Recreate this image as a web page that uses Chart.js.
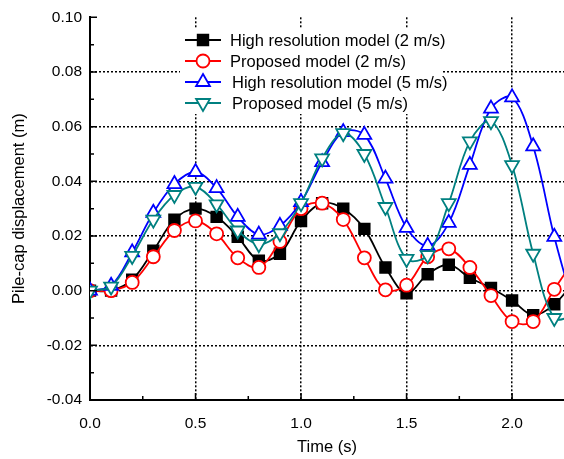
<!DOCTYPE html>
<html>
<head>
<meta charset="utf-8">
<script src="https://cdn.jsdelivr.net/npm/chart.js@4.4.1/dist/chart.umd.min.js"></script>
<style>
    html, body { margin: 0; padding: 0; background: #fff; }
</style>
</head>
<body>
<canvas id="dispChart" width="564" height="459"></canvas>
<script>
// time (s) of each sample
var timeSteps = [0.0, 0.1, 0.2, 0.3, 0.4, 0.5, 0.6, 0.7, 0.8, 0.9, 1.0, 1.1,
                 1.2, 1.3, 1.4, 1.5, 1.6, 1.7, 1.8, 1.9, 2.0, 2.1, 2.2, 2.3];

// pile-cap displacement (m)
var hiRes2 = [0, 0, 0.004, 0.0146, 0.026, 0.030, 0.027, 0.0197, 0.011, 0.0135, 0.0255, 0.032,
              0.030, 0.0226, 0.0085, -0.001, 0.006, 0.0095, 0.0047, 0.001, -0.0036, -0.009, -0.005, 0.004];
var proposed2 = [0, 0, 0.003, 0.0124, 0.022, 0.0255, 0.0208, 0.012, 0.0085, 0.018, 0.030, 0.032,
                 0.026, 0.012, 0.0003, 0.002, 0.0124, 0.0153, 0.0085, -0.0018, -0.0113, -0.0113, 0.0005, 0.012];
var hiRes5 = [0, 0.0018, 0.014, 0.0285, 0.039, 0.0434, 0.0375, 0.027, 0.0205, 0.0237, 0.0324, 0.047,
              0.058, 0.057, 0.041, 0.023, 0.0164, 0.0248, 0.046, 0.0666, 0.0707, 0.0528, 0.0197, -0.008];
var proposed5 = [0, 0.0015, 0.0127, 0.026, 0.035, 0.038, 0.0316, 0.022, 0.017, 0.021, 0.032, 0.0484,
                 0.0576, 0.050, 0.0306, 0.0116, 0.013, 0.032, 0.0546, 0.062, 0.0459, 0.0135, -0.010, -0.009];

var seriesNames = ['High resolution model (2 m/s)', 'Proposed model (2 m/s)',
                   'High resolution model (5 m/s)', 'Proposed model (5 m/s)'];

var xTicks = [0.0, 0.5, 1.0, 1.5, 2.0];
var yTicks = [-0.04, -0.02, 0.00, 0.02, 0.04, 0.06, 0.08, 0.10];

var FONT = "Arial, 'Liberation Sans', sans-serif";

function toPoints(values) {
    return values.map(function (v, i) { return { x: timeSteps[i], y: v }; });
}

function makeSeries(i, values, color, style, opts) {
    return Object.assign({
        label: seriesNames[i],
        data: toPoints(values),
        borderColor: color,
        backgroundColor: '#fff',
        pointBorderColor: color,
        pointBackgroundColor: '#fff',
        pointStyle: style,
        pointRadius: 6.5,
        pointBorderWidth: 1.8,
        borderWidth: 1.8,
        tension: 0.35,
        order: 3 - i
    }, opts || {});
}

// inward tick marks on the left and bottom axes
var axisTicks = {
    id: 'axisTicks',
    afterDatasetsDraw: function (chart) {
        var ctx = chart.ctx, x = chart.scales.x, y = chart.scales.y, a = chart.chartArea;
        ctx.save();
        ctx.strokeStyle = '#000';
        ctx.lineWidth = 1.5;
        ctx.beginPath();
        for (var k = 1; k * 0.25 <= 2.25; k++) {
            var px = x.getPixelForValue(k * 0.25);
            var len = (k % 2 === 0) ? 7 : 4;
            ctx.moveTo(px, a.bottom);
            ctx.lineTo(px, a.bottom - len);
        }
        for (var j = 1; j <= 14; j++) {
            var py = y.getPixelForValue(-0.04 + j * 0.01);
            var l2 = (j % 2 === 0) ? 7 : 4;
            ctx.moveTo(a.left, py);
            ctx.lineTo(a.left + l2, py);
        }
        ctx.stroke();
        ctx.restore();
    }
};

// legend box drawn inside the plot
var innerLegend = {
    id: 'innerLegend',
    afterDraw: function (chart) {
        var ctx = chart.ctx;
        ctx.save();
        ctx.fillStyle = '#fff';
        ctx.fillRect(180, 28, 262, 86);
        ctx.font = '16.5px ' + FONT;
        ctx.textBaseline = 'middle';
        chart.data.datasets.forEach(function (ds, i) {
            var rowY = 40 + i * 21;
            ctx.strokeStyle = ds.borderColor;
            ctx.lineWidth = 1.8;
            ctx.beginPath();
            ctx.moveTo(185, rowY);
            ctx.lineTo(221, rowY);
            ctx.stroke();
            ctx.fillStyle = ds.pointBackgroundColor;
            Chart.helpers.drawPoint(ctx, {
                pointStyle: ds.pointStyle,
                radius: ds.pointRadius,
                rotation: ds.pointRotation || 0,
                borderWidth: ds.pointBorderWidth
            }, 203, rowY);
            ctx.fillStyle = '#000';
            ctx.fillText(ds.label, i >= 2 ? 232 : 230, rowY + 1);
        });
        ctx.restore();
    }
};

var ctx = document.getElementById('dispChart').getContext('2d');
var dispChart = new Chart(ctx, {
    type: 'line',
    data: {
        datasets: [
            makeSeries(0, hiRes2, '#000000', 'rect', { pointBackgroundColor: '#000', pointRadius: 7.5 }),
            makeSeries(1, proposed2, '#ff0000', 'circle'),
            makeSeries(2, hiRes5, '#0000ff', 'triangle', { pointRadius: 8 }),
            makeSeries(3, proposed5, '#008080', 'triangle', { pointRadius: 8, pointRotation: 180 })
        ]
    },
    options: {
        responsive: false,
        animation: false,
        layout: { autoPadding: false, padding: { top: 16, left: 0, right: 0, bottom: 0 } },
        plugins: {
            legend: { display: false },
            tooltip: { enabled: false }
        },
        scales: {
            x: {
                type: 'linear',
                min: 0,
                max: 2.246,
                afterBuildTicks: function (scale) {
                    scale.ticks = xTicks.map(function (v) { return { value: v }; });
                },
                afterFit: function (scale) {
                    scale.height = 59;
                    scale.paddingLeft = 0;
                    scale.paddingRight = 0;
                },
                ticks: {
                    color: '#000',
                    font: { family: FONT, size: 15.5 },
                    padding: 14,
                    maxRotation: 0,
                    callback: function (v) { return v.toFixed(1); }
                },
                grid: {
                    color: function (c) { return c.tick && c.tick.value > 0 ? '#000' : 'rgba(0,0,0,0)'; },
                    lineWidth: 1.5,
                    drawTicks: false
                },
                border: { display: true, color: '#000', width: 2, dash: [2, 2] },
                title: {
                    display: true,
                    text: 'Time (s)',
                    color: '#000',
                    font: { family: FONT, size: 16.5 },
                    padding: { top: 0, bottom: 2 }
                }
            },
            y: {
                type: 'linear',
                min: -0.04,
                max: 0.10,
                afterBuildTicks: function (scale) {
                    scale.ticks = yTicks.map(function (v) { return { value: v }; });
                },
                afterFit: function (scale) { scale.width = 90; },
                ticks: {
                    color: '#000',
                    font: { family: FONT, size: 15.5 },
                    padding: 8,
                    callback: function (v) { return v.toFixed(2); }
                },
                grid: {
                    color: function (c) {
                        var v = c.tick ? c.tick.value : null;
                        return (v !== null && v > -0.039 && v < 0.099) ? '#000' : 'rgba(0,0,0,0)';
                    },
                    lineWidth: 1.5,
                    drawTicks: false
                },
                border: { display: true, color: '#000', width: 2, dash: [2, 2] },
                title: {
                    display: true,
                    text: 'Pile-cap displacement (m)',
                    color: '#000',
                    font: { family: FONT, size: 16.5 },
                    padding: { top: 10, bottom: 0 }
                }
            }
        }
    },
    plugins: [axisTicks, innerLegend]
});
</script>
</body>
</html>
